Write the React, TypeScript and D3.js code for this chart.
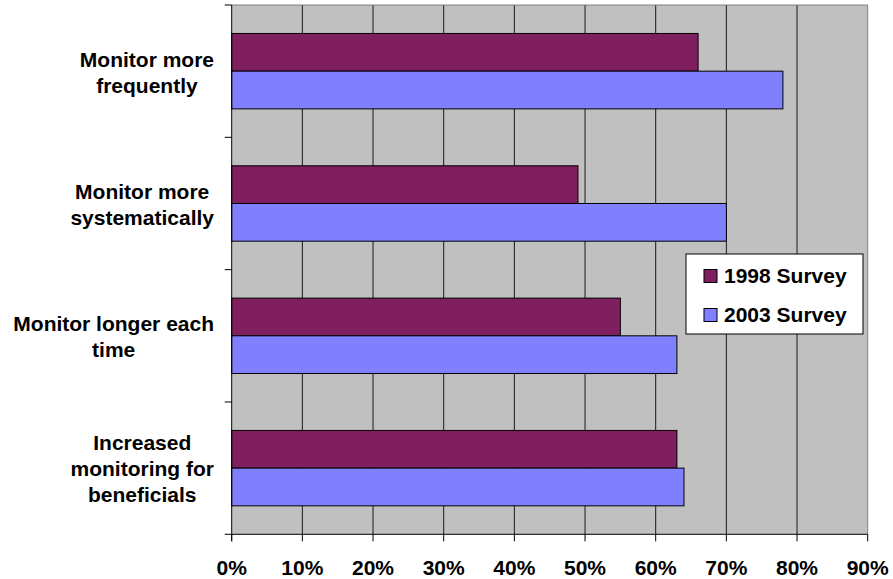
import React from "react";
import * as d3 from "d3";

const categories = [
  ["Monitor more", "frequently"],
  ["Monitor more", "systematically"],
  ["Monitor longer each", "time"],
  ["Increased", "monitoring for", "beneficials"],
];
const seriesNames = ["1998 Survey", "2003 Survey"];
const values1998 = [0.66, 0.49, 0.55, 0.63];
const values2003 = [0.78, 0.70, 0.63, 0.64];
const tickValues = [0, 0.1, 0.2, 0.3, 0.4, 0.5, 0.6, 0.7, 0.8, 0.9];
const colors = ["#7F1F5F", "#8080FF"];

const W = 893;
const H = 579;
const FONT = "'Liberation Sans', Arial, sans-serif";
const FS = 21;

function measure(text: string): number {
  const c = document.createElement("canvas").getContext("2d");
  if (!c) return text.length * FS * 0.55;
  c.font = `bold ${FS}px ${FONT}`;
  return c.measureText(text).width;
}

export default function App() {
  const left = 231.7;
  const right = 867.7;
  const top = 5;
  const bottom = 534.3;
  const x = d3.scaleLinear().domain([0, 0.9]).range([left, right]);
  const y = d3
    .scaleBand<number>()
    .domain(categories.map((_, i) => i))
    .range([top, bottom])
    .padding(0);
  const bw = y.bandwidth();
  const inner = d3
    .scaleBand<number>()
    .domain([0, 1])
    .range([0, bw])
    .paddingInner(0)
    .paddingOuter(0.755);
  const series = [values1998, values2003];
  const lineH = 26;

  return (
    <div style={{ position: "fixed", left: 0, top: 0, width: W, height: H, background: "#fff" }}>
      <svg width={W} height={H} style={{ display: "block", fontFamily: FONT }}>
        <rect x={left} y={top} width={right - left} height={bottom - top} fill="#C0C0C0" />
        {tickValues.slice(1, -1).map((t) => (
          <line key={t} x1={x(t)} x2={x(t)} y1={top} y2={bottom} stroke="#1a1a1a" strokeWidth={1} />
        ))}
        <line x1={left} x2={right} y1={top} y2={top} stroke="#808080" strokeWidth={1} />
        <line x1={right} x2={right} y1={top} y2={bottom} stroke="#808080" strokeWidth={1} />
        {categories.map((_, i) =>
          series.map((vals, s) => (
            <rect
              key={`${i}-${s}`}
              x={x(0)}
              y={(y(i) as number) + (inner(s) as number)}
              width={x(vals[i]) - x(0)}
              height={inner.bandwidth()}
              fill={colors[s]}
              stroke="#000"
              strokeWidth={1}
            />
          ))
        )}
        {/* axes */}
        <line x1={left} x2={left} y1={top} y2={bottom + 7} stroke="#000" strokeWidth={1} />
        <line x1={left - 7} x2={right} y1={bottom} y2={bottom} stroke="#000" strokeWidth={1} />
        {categories.map((_, i) => (
          <line key={`yt${i}`} x1={left - 7} x2={left} y1={y(i) as number} y2={y(i) as number} stroke="#000" />
        ))}
        {tickValues.map((t) => (
          <g key={`xt${t}`}>
            <line x1={x(t)} x2={x(t)} y1={bottom} y2={bottom + 7} stroke="#000" />
            <text
              x={x(t)}
              y={575}
              textAnchor="middle"
              fontSize={FS}
              fontWeight="bold"
              fill="#000"
            >
              {d3.format(".0%")(t)}
            </text>
          </g>
        ))}
        {categories.map((lines, i) => {
          const maxW = Math.max(...lines.map(measure));
          const cx = left - 17.7 - maxW / 2;
          const cy = (y(i) as number) + bw / 2 + 1;
          const y0 = cy - ((lines.length - 1) * lineH) / 2;
          return (
            <text key={`cl${i}`} textAnchor="middle" fontSize={FS} fontWeight="bold" fill="#000">
              {lines.map((l, j) => (
                <tspan key={j} x={cx} y={y0 + j * lineH} dy="0.35em">
                  {l}
                </tspan>
              ))}
            </text>
          );
        })}
        {/* legend */}
        <rect x={686} y={254} width={177} height={80} fill="#fff" stroke="#000" strokeWidth={1} />
        {seriesNames.map((n, s) => (
          <g key={n} transform={`translate(704, ${276 + s * 39})`}>
            <rect x={0} y={-6.5} width={13} height={13} fill={colors[s]} stroke="#000" strokeWidth={1} />
            <text x={20} y={0} dy="0.35em" fontSize={FS} fontWeight="bold" fill="#000">
              {n}
            </text>
          </g>
        ))}
      </svg>
    </div>
  );
}
